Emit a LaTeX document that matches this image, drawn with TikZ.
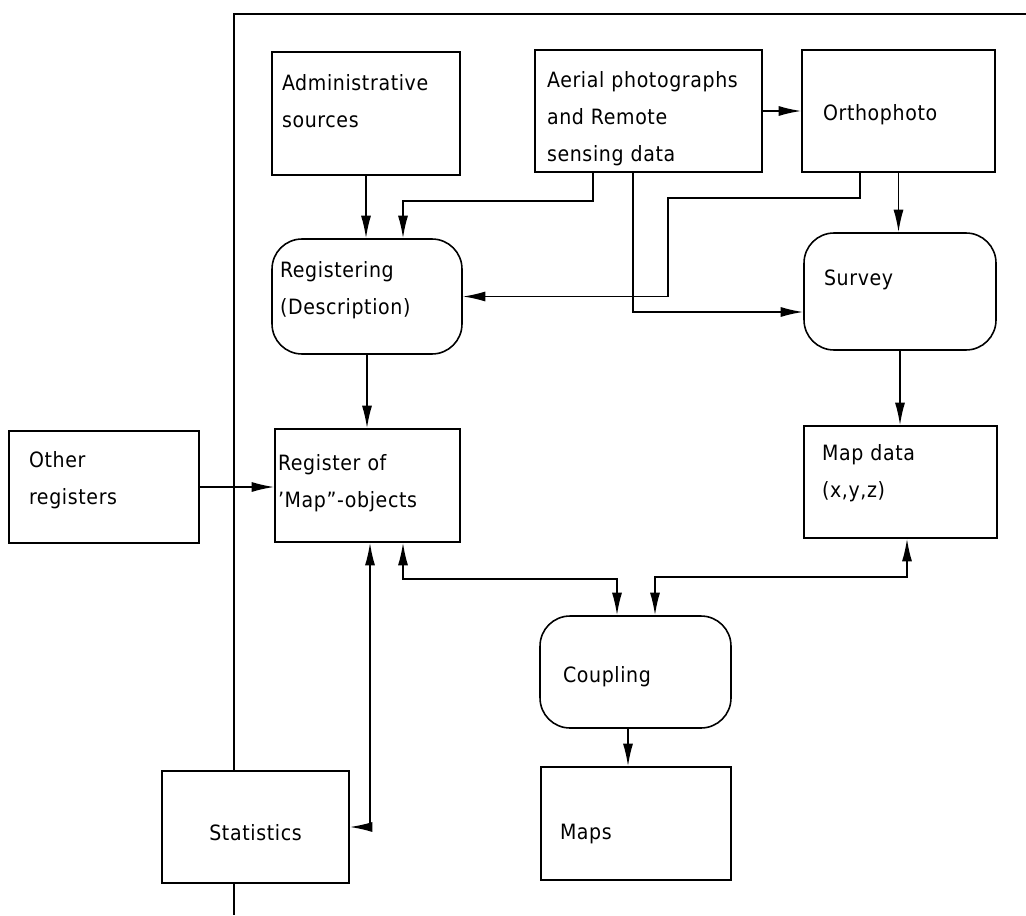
\documentclass[tikz,border=0pt]{standalone}
\usepackage{fontspec}
\setmainfont{DejaVu Sans Condensed}[LetterSpace=3]
\usetikzlibrary{arrows.meta}

\begin{document}
\begin{tikzpicture}[x=0.02cm, y=-0.02cm,
         line width=0.9pt,
         >={Latex[length=4.5mm, width=2mm]},
every node/.style = {font=\fontsize{12}{21}\selectfont},
         B/.style = {draw, rectangle, align=left, inner ysep=0pt, text height=0.4cm},
         R/.style = {B, rounded corners=0.6cm}
                    ]
\useasboundingbox (0,0) rectangle (1026,915);

% boxes
\node[B, text width=3.36cm, inner xsep=0.2cm,  minimum height=2.46cm, text depth=1.32cm] (adm)  at (366,113.5) {Administrative\\sources};
\node[B, text width=4.06cm, inner xsep=0.24cm, minimum height=2.44cm, text depth=1.34cm] (aer)  at (648.5,111) {Aerial photographs\\and Remote\\sensing data};
\node[B, text width=3.02cm, inner xsep=0.42cm, minimum height=2.44cm, text depth=0.02cm] (ort)  at (898.5,111) {Orthophoto};
\node[R, text width=3.48cm, inner xsep=0.16cm, minimum height=2.3cm,  text depth=1.16cm] (reg)  at (367,296.5) {Registering\\(Description)};
\node[R, text width=3.04cm, inner xsep=0.4cm,  minimum height=2.34cm, text depth=0.64cm] (sur)  at (900,291.5) {Survey};
\node[B, text width=3.58cm, inner xsep=0.06cm, minimum height=2.26cm, text depth=1.0cm]  (rmo)  at (367.5,485.5) {Register of\\'Map''-objects};
\node[B, text width=3.0cm,  inner xsep=0.4cm,  minimum height=2.24cm, text depth=1.18cm] (oth)  at (104,487) {Other\\registers};
\node[B, text width=3.14cm, inner xsep=0.36cm, minimum height=2.24cm, text depth=1.26cm] (mdt)  at (900.5,482) {Map data\\(x,y,z)};
\node[R, text width=2.9cm,  inner xsep=0.46cm, minimum height=2.24cm, text depth=0cm]    (cpl)  at (635.5,672) {Coupling};
\node[B, text width=3.04cm, inner xsep=0.38cm, minimum height=2.26cm, text height=0.8cm, text depth=0.16cm] (maps) at (636,823.5) {Maps};
\node[B, minimum width=3.74cm, minimum height=2.24cm, align=center, text height=0.8cm, text depth=0.26cm] (sta) at (255.5,827) {Statistics};

% bends
\coordinate (a1) at (593,201);
\coordinate (a2) at (403,201);
\coordinate (b1) at (860,198);
\coordinate (b2) at (668,198);
\coordinate (c1) at (633,312);
\coordinate (g1) at (403,579);
\coordinate (g2) at (617,579);
\coordinate (h1) at (907,577);
\coordinate (h2) at (655,577);
\coordinate (k1) at (628,750);
\coordinate (s1) at (370,827);
\coordinate (ftl) at (234,14);
\coordinate (ftr) at (1026,14);
\coordinate (fb)  at (234,915);

% frame
\draw (ftr) -- (ftl) -- (ftl |- sta.north);
\draw (ftl |- sta.south) -- (fb);

% connectors
\draw[->] (aer) -- (ort);
\draw[->] (adm) -- (adm |- reg.north);
\draw[->] (aer.south -| a1) -- (a1) -- (a2) -- (a2 |- reg.north);
\draw[->] (ort.south -| b1) -- (b1) -- (b2) |- (reg.east);
\draw[->] (aer.south -| c1) -- (c1) -- (c1 -| sur.west);
\draw[->] (ort) -- (ort |- sur.north);
\draw[->] (sur) -- (sur |- mdt.north);
\draw[->] (reg) -- (reg |- rmo.north);
\draw[->] (oth) -- (oth -| rmo.west);
\draw[<->] (rmo.south -| g1) -- (g1) -- (g2) -- (g2 |- cpl.north);
\draw[<->] (mdt.south -| h1) -- (h1) -- (h2) -- (h2 |- cpl.north);
\draw[->] (cpl.south -| k1) -- (k1 |- maps.north);
\draw[<->] (rmo.south -| s1) |- (sta.east);
\end{tikzpicture}
\end{document}
